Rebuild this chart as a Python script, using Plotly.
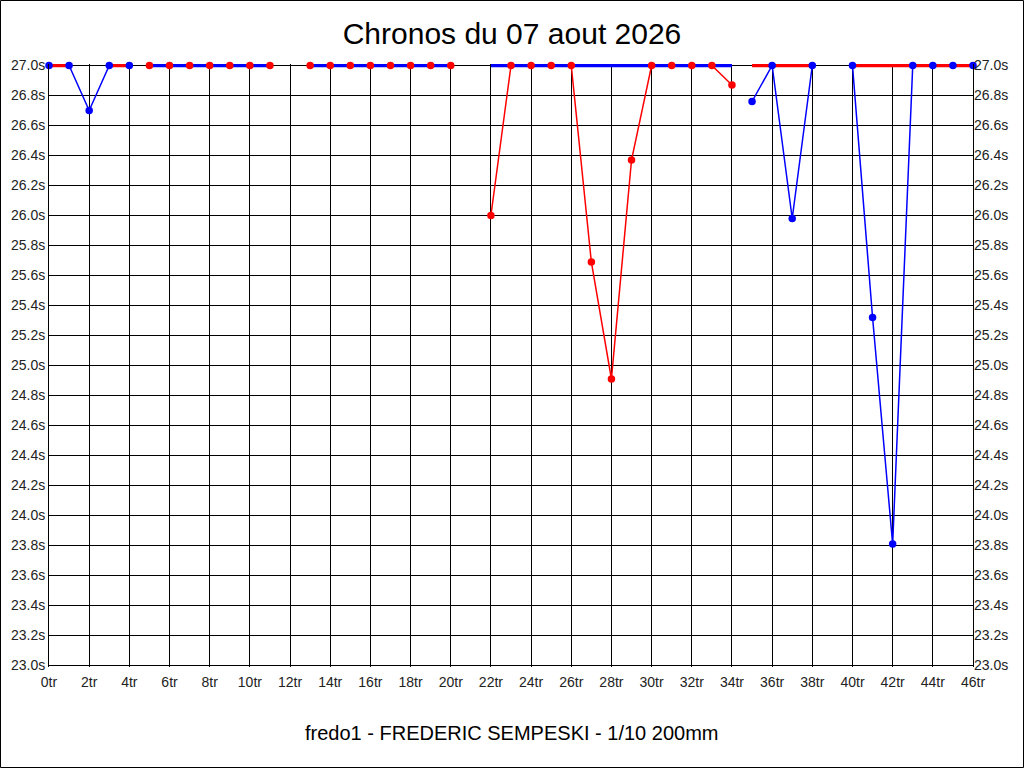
import plotly.graph_objects as go

N = None

# tours 0..46
laps = [0, 1, 2, 3, 4, 5, 6, 7, 8, 9, 10, 11, 12, 13, 14, 15, 16, 17, 18, 19, 20, 21, 22, 23,
        24, 25, 26, 27, 28, 29, 30, 31, 32, 33, 34, 35, 36, 37, 38, 39, 40, 41, 42, 43, 44, 45, 46]

# chronos (s), plafonnes a 27.0
red_times = [N, N, N, N, N,
             27.0, 27.0, 27.0, 27.0, 27.0, 27.0, 27.0, N,
             27.0, 27.0, 27.0, 27.0, 27.0, 27.0, 27.0, 27.0, N,
             26.0, 27.0, 27.0, 27.0, 27.0, 25.69, 24.91, 26.37, 27.0, 27.0, 27.0, 27.0, 26.87,
             N, N, N, N, N, N, N, N, N, N, N, N]
blue_times = [27.0, 27.0, 26.70, 27.0, 27.0,
              N, N, N, N, N, N, N, N, N, N, N, N, N, N, N, N, N, N, N, N, N, N, N, N, N, N, N, N, N, N,
              26.76, 27.0, 25.98, 27.0, N,
              27.0, 25.32, 23.81, 27.0, 27.0, 27.0, 27.0]

# traits epais au plafond
red_cap = [27.0, 27.0, N, 27.0, 27.0,
           N, N, N, N, N, N, N, N, N, N, N, N, N, N, N, N, N, N, N, N, N, N, N, N, N, N, N, N, N, N,
           27.0, 27.0, 27.0, 27.0, N,
           27.0, 27.0, 27.0, 27.0, 27.0, 27.0, 27.0]
blue_cap = [N, N, N, N, N,
            27.0, 27.0, 27.0, 27.0, 27.0, 27.0, 27.0, N,
            27.0, 27.0, 27.0, 27.0, 27.0, 27.0, 27.0, 27.0, N,
            27.0, 27.0, 27.0, 27.0, 27.0, 27.0, 27.0, 27.0, 27.0, 27.0, 27.0, 27.0, 27.0,
            N, N, N, N, N, N, N, N, N, N, N, N]

RED = '#ff0000'
BLUE = '#0000ff'

data = [
    go.Scatter(x=laps, y=red_times, mode='lines', line=dict(color=RED, width=1.5)),
    go.Scatter(x=laps, y=blue_times, mode='lines', line=dict(color=BLUE, width=1.5)),
    go.Scatter(x=laps, y=red_cap, mode='lines', line=dict(color=RED, width=3.5)),
    go.Scatter(x=laps, y=blue_cap, mode='lines', line=dict(color=BLUE, width=3.5)),
    go.Scatter(x=laps, y=red_times, mode='markers', cliponaxis=False,
               marker=dict(color=RED, size=7.5)),
    go.Scatter(x=laps, y=blue_times, mode='markers', cliponaxis=False,
               marker=dict(color=BLUE, size=7.5)),
    # pour afficher l'axe de droite
    go.Scatter(x=[0, 46], y=[23.0, 27.0], mode='markers', yaxis='y2',
               marker=dict(opacity=0), hoverinfo='skip'),
]

tick_font = dict(family='Liberation Sans, Arial, sans-serif', size=14, color='#222')
yrange = [22.99, 27.01]

layout = go.Layout(
    width=1024, height=768,
    showlegend=False,
    paper_bgcolor='white', plot_bgcolor='white',
    margin=dict(l=49, r=51, t=64, b=101, pad=0),
    title=dict(text='Chronos du 07 aout 2026', x=0.5, xanchor='center',
               y=1 - 33 / 768, yanchor='middle',
               font=dict(family='Liberation Sans, Arial, sans-serif', size=30, color='black')),
    xaxis=dict(range=[0, 46], dtick=2, tick0=0, ticksuffix='tr', showgrid=True,
               gridcolor='black', gridwidth=1, zeroline=False, showline=False,
               tickfont=tick_font, ticks='', ticklabelstandoff=5, fixedrange=True),
    yaxis=dict(range=yrange, dtick=0.2, tick0=23.0, tickformat='.1f', ticksuffix='s',
               showgrid=True, gridcolor='black', gridwidth=1, zeroline=False,
               showline=True, linecolor='black', linewidth=1, mirror=True,
               tickfont=tick_font, ticks=''),
    yaxis2=dict(range=yrange, dtick=0.2, tick0=23.0, tickformat='.1f', ticksuffix='s',
                overlaying='y', side='right', showgrid=False, zeroline=False,
                tickfont=tick_font, ticks=''),
    annotations=[dict(text='fredo1 - FREDERIC SEMPESKI - 1/10 200mm', x=0.5, xref='paper',
                      y=-(733 - 667) / 603, yref='paper', xanchor='center', yanchor='middle',
                      showarrow=False,
                      font=dict(family='Liberation Sans, Arial, sans-serif', size=20, color='black'))],
    shapes=[dict(type='rect', xref='paper', yref='paper',
                 x0=-48.5 / 924, x1=1 + 50.5 / 924, y0=-100.5 / 603, y1=1 + 63.5 / 603,
                 line=dict(color='black', width=1), layer='below')],
)

fig = go.Figure(data=data, layout=layout)
fig.write_html('out.html', config={'displayModeBar': False},
               post_script="document.body.style.margin='0';")
